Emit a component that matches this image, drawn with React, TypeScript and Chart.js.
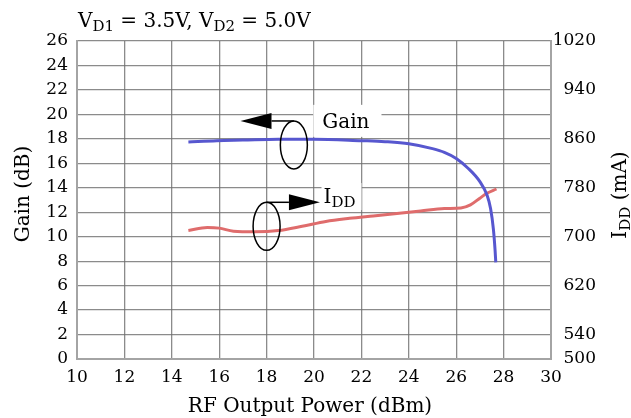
import React, { useEffect, useRef } from "react";
import { Chart, registerables } from "chart.js";

Chart.register(...registerables);

// ---- data ----
const GAIN_X = [14.7, 15.9, 17.0, 18.5, 20.0, 22.0, 23.0, 24.0, 25.0, 25.5, 26.0, 26.5, 27.0, 27.3, 27.45, 27.57, 27.64, 27.67];
const GAIN_DB = [17.75, 17.85, 17.9, 17.97, 17.97, 17.85, 17.77, 17.6, 17.2, 16.9, 16.4, 15.6, 14.5, 13.4, 12.3, 10.6, 8.9, 7.9];
const IDD_X = [14.7, 15.5, 16.0, 16.6, 17.5, 18.5, 19.5, 20.5, 21.5, 22.5, 23.5, 24.5, 25.5, 26.2, 26.6, 27.0, 27.3, 27.7];
const IDD_MA = [710, 715, 714, 709, 708, 710, 717, 725, 730, 734, 738, 742, 746, 747, 752, 763, 771, 778];
const IDD_TICKS = [500, 540, 620, 700, 780, 860, 940, 1020];

// annotation anchors (data coordinates)
const GAIN_NOTE = { ellipseX: 19.15, ellipseDb: 17.5, tipX: 16.9, labelX: 20.35, labelDb: 18.9 };
const IDD_NOTE = { ellipseX: 18.0, ellipseMa: 717, tipX: 20.25, labelX: 20.4, labelMa: 755 };

const FONT = "'DejaVu Serif', serif";
const GRID = "rgba(110,110,110,0.8)";
const BORDER = "#a4a4a4";

type Part = { t: string; sub?: boolean };

function drawRich(ctx: CanvasRenderingContext2D, parts: Part[], x: number, y: number, size: number, subSize: number, subShift: number, align: "left" | "center") {
  const widths = parts.map((p) => {
    ctx.font = `${p.sub ? subSize : size}px ${FONT}`;
    return ctx.measureText(p.t).width;
  });
  const total = widths.reduce((a, b) => a + b, 0);
  let cx = align === "center" ? x - total / 2 : x;
  ctx.textAlign = "left";
  ctx.textBaseline = "alphabetic";
  parts.forEach((p, i) => {
    ctx.font = `${p.sub ? subSize : size}px ${FONT}`;
    ctx.fillText(p.t, cx, p.sub ? y + subShift : y);
    cx += widths[i];
  });
  return total;
}

function drawArrowNote(ctx: CanvasRenderingContext2D, cx: number, cy: number, tipX: number) {
  const rx = 13.5, ry = 24, headLen = 31, headHalf = 8;
  ctx.save();
  ctx.strokeStyle = "#000";
  ctx.fillStyle = "#000";
  ctx.lineWidth = 1.5;
  ctx.beginPath();
  ctx.ellipse(cx, cy, rx, ry, 0, 0, Math.PI * 2);
  ctx.stroke();
  const topY = cy - ry;
  const dir = tipX < cx ? -1 : 1;
  const baseX = tipX - dir * headLen;
  ctx.beginPath();
  ctx.moveTo(cx, topY);
  ctx.lineTo(baseX, topY);
  ctx.stroke();
  ctx.beginPath();
  ctx.moveTo(tipX, topY);
  ctx.lineTo(baseX, topY - headHalf);
  ctx.lineTo(baseX, topY + headHalf);
  ctx.closePath();
  ctx.fill();
  ctx.restore();
}

const notesPlugin = {
  id: "notes",
  afterDatasetsDraw(chart: any) {
    const ctx: CanvasRenderingContext2D = chart.ctx;
    const xs = chart.scales.x, ys = chart.scales.y, y1 = chart.scales.y1;
    // Gain note
    {
      const cx = xs.getPixelForValue(GAIN_NOTE.ellipseX);
      const cy = ys.getPixelForValue(GAIN_NOTE.ellipseDb);
      drawArrowNote(ctx, cx, cy, xs.getPixelForValue(GAIN_NOTE.tipX));
      const lx = xs.getPixelForValue(GAIN_NOTE.labelX);
      const ly = ys.getPixelForValue(GAIN_NOTE.labelDb);
      ctx.save();
      ctx.font = `20px ${FONT}`;
      const w = ctx.measureText("Gain").width;
      ctx.fillStyle = "#fff";
      ctx.fillRect(lx - 9, ly - 23, w + 21, 32);
      ctx.fillStyle = "#000";
      drawRich(ctx, [{ t: "Gain" }], lx, ly, 20, 15, 4, "left");
      ctx.restore();
    }
    // IDD note
    {
      const cx = xs.getPixelForValue(IDD_NOTE.ellipseX);
      const cy = y1.getPixelForValue(IDD_NOTE.ellipseMa);
      drawArrowNote(ctx, cx, cy, xs.getPixelForValue(IDD_NOTE.tipX));
      const lx = xs.getPixelForValue(IDD_NOTE.labelX);
      const ly = y1.getPixelForValue(IDD_NOTE.labelMa);
      ctx.save();
      ctx.fillStyle = "#fff";
      ctx.fillRect(lx - 2, ly - 20, 40, 27);
      ctx.fillStyle = "#000";
      drawRich(ctx, [{ t: "I" }, { t: "DD", sub: true }], lx, ly, 20, 15, 4, "left");
      ctx.restore();
    }
  },
  afterDraw(chart: any) {
    const ctx: CanvasRenderingContext2D = chart.ctx;
    const area = chart.chartArea;
    const midY = (area.top + area.bottom) / 2;
    ctx.save();
    ctx.fillStyle = "#000";
    // chart title
    drawRich(ctx, [{ t: "V" }, { t: "D1", sub: true }, { t: " = 3.5V, V" }, { t: "D2", sub: true }, { t: " = 5.0V" }], area.left + 1, 26.5, 20, 15, 4, "left");
    // x axis title
    drawRich(ctx, [{ t: "RF Output Power (dBm)" }], (area.left + area.right) / 2 - 4, 412, 20, 15, 4, "center");
    // left axis title
    ctx.save();
    ctx.translate(28.5, midY - 6);
    ctx.rotate(-Math.PI / 2);
    drawRich(ctx, [{ t: "Gain (dB)" }], 0, 0, 20, 15, 4, "center");
    ctx.restore();
    // right axis title
    ctx.save();
    ctx.translate(626, midY - 5);
    ctx.rotate(-Math.PI / 2);
    drawRich(ctx, [{ t: "I" }, { t: "DD", sub: true }, { t: " (mA)" }], 0, 0, 20, 15, 4, "center");
    ctx.restore();
    ctx.restore();
  },
};

export default function App() {
  const ref = useRef<HTMLCanvasElement>(null);
  useEffect(() => {
    const tickFont = { family: FONT, size: 17 };
    const chart = new Chart(ref.current as HTMLCanvasElement, {
      type: "line",
      data: {
        datasets: [
          {
            label: "Gain",
            data: GAIN_X.map((x, i) => ({ x, y: GAIN_DB[i] })),
            yAxisID: "y",
            borderColor: "#5757cf",
            borderWidth: 3,
            pointRadius: 0,
            cubicInterpolationMode: "monotone",
            fill: false,
          },
          {
            label: "IDD",
            data: IDD_X.map((x, i) => ({ x, y: IDD_MA[i] })),
            yAxisID: "y1",
            borderColor: "#df6c6c",
            borderWidth: 3,
            pointRadius: 0,
            cubicInterpolationMode: "monotone",
            fill: false,
          },
        ],
      },
      options: {
        animation: false,
        responsive: false,
        devicePixelRatio: 1,
        layout: { padding: { top: 41, left: 0, right: 35, bottom: 0 } },
        plugins: { legend: { display: false }, tooltip: { enabled: false }, title: { display: false } },
        scales: {
          x: {
            type: "linear",
            min: 10,
            max: 30,
            ticks: { stepSize: 2, padding: 8, font: tickFont, color: "#000", maxRotation: 0, autoSkip: false },
            grid: { color: GRID, lineWidth: 1.3, drawTicks: false },
            border: { color: BORDER, width: 2 },
            afterFit: (s: any) => { s.height = 59; },
          },
          y: {
            type: "linear",
            position: "left",
            min: 0,
            max: 26,
            ticks: { stepSize: 2, padding: 9, font: tickFont, color: "#000", autoSkip: false },
            grid: { color: GRID, lineWidth: 1.3, drawTicks: false },
            border: { color: BORDER, width: 2 },
            afterFit: (s: any) => { s.width = 77; },
          },
          y1: {
            type: "linear",
            position: "right",
            min: 500,
            max: 1020,
            afterBuildTicks: (s: any) => { s.ticks = IDD_TICKS.map((v) => ({ value: v })); },
            ticks: { padding: 1, crossAlign: "far", font: tickFont, color: "#000", autoSkip: false, callback: (v: any) => String(v) },
            grid: { drawOnChartArea: false, drawTicks: false },
            border: { color: BORDER, width: 2 },
            afterFit: (s: any) => { s.width = 45; },
          },
        },
      } as any,
      plugins: [notesPlugin],
    });
    return () => chart.destroy();
  }, []);
  return (
    <div style={{ position: "fixed", left: 0, top: 0, width: 631, height: 418, background: "#fff" }}>
      <canvas ref={ref} width={631} height={418} style={{ display: "block" }} />
    </div>
  );
}
